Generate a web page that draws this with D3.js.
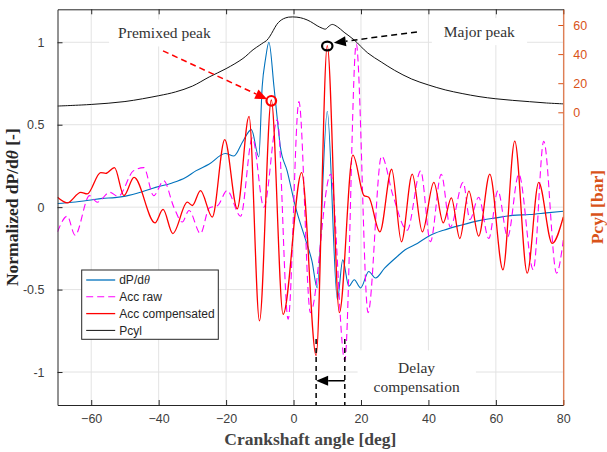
<!DOCTYPE html>
<html>
<head>
<meta charset="utf-8">
<script src="https://cdn.jsdelivr.net/npm/d3@7"></script>
<style>
  body { margin: 0; background: #fff; }
  svg { display: block; font-family: "Liberation Sans", Arial, sans-serif; }
</style>
</head>
<body>
<div id="chart"></div>
<script>
// ---- data ----
var xTicks = [-60, -40, -20, 0, 20, 40, 60, 80];
var yTicks = [-1, -0.5, 0, 0.5, 1];
var yTickLabels = ['-1', '-0.5', '0', '0.5', '1'];
var pTicks = [0, 20, 40, 60];

// Pcyl [bar] (right axis)
var pcylAngle = [-70, -60, -50, -40, -35, -30, -25, -20, -15, -12, -10, -9, -8, -7, -6, -5, -4, -3, -1.5, 1, 3, 5, 7, 8.5, 9.5, 10.5, 11.5, 13, 15, 18, 22, 26, 30, 35, 40, 45, 50, 55, 60, 65, 70, 75, 80];
var pcylBar   = [4.3, 5.4, 7.4, 11.4, 14, 18, 24.3, 30, 37, 43, 46.2, 47.8, 49.3, 52.3, 56.3, 60.3, 62.8, 64.3, 65.4, 65.4, 64.4, 62.4, 59.5, 57.8, 57.2, 59.2, 60.4, 58.8, 55, 49.7, 40.8, 34.6, 28.8, 22.9, 18.8, 15.4, 12.9, 10.8, 9.3, 8.2, 7.3, 6.4, 5.8];

// dP/dtheta normalized
var dpAngle = [-70, -65.6, -60.7, -56.7, -53, -49.8, -44.9, -40.9, -36, -32, -29, -25.1, -20.2, -17.7, -15, -12.5, -10.3, -9.3, -8.3, -7.3, -5.8, -4.8, -3.9, -1.9, 0.6, 3.6, 5.5, 7.0, 10.0, 13.0, 14.6, 16.4, 18, 19.9, 22.3, 24.3, 27, 30.7, 33, 36.7, 40.6, 44.5, 49.5, 55.4, 60, 65, 70, 75, 80];
var dpValue = [0.022, 0.03, 0.042, 0.053, 0.058, 0.067, 0.093, 0.12, 0.147, 0.18, 0.22, 0.26, 0.325, 0.31, 0.40, 0.47, 0.305, 0.73, 0.9, 1.0, 0.73, 0.53, 0.365, 0.22, 0.0, -0.2, -0.33, -0.49, 0.58, -0.56, -0.32, -0.48, -0.44, -0.49, -0.39, -0.43, -0.37, -0.3, -0.26, -0.22, -0.17, -0.14, -0.11, -0.08, -0.065, -0.05, -0.045, -0.035, -0.025];

// Acc raw
var rawAngle = [-70, -67.1, -64.8, -60.5, -58.2, -54.5, -52, -47.5, -44.4, -41.5, -38.5, -35.5, -33, -31, -27.6, -25, -22.5, -19.7, -15.7, -12.2, -8.8, -4.8, -1.6, 1.6, 5.0, 11.0, 15.2, 18.6, 22.1, 26.1, 29.5, 33.7, 37.7, 40.6, 43.8, 46.5, 50.3, 52.3, 54.9, 57.9, 60.6, 63.5, 66.8, 71.1, 74.2, 78, 80];
var rawValue = [-0.15, -0.055, -0.17, 0.07, 0.03, 0.09, 0.065, 0.22, 0.24, 0.07, 0.16, 0.0, -0.09, -0.02, -0.16, -0.005, 0.01, 0.10, -0.055, 0.42, 0.0, 0.53, -0.68, 0.64, -0.64, 0.2, -0.93, 0.99, -0.64, 0.31, 0.07, -0.14, 0.22, -0.21, 0.2, -0.12, 0.15, -0.075, 0.06, -0.19, 0.1, -0.18, 0.2, -0.38, 0.40, -0.40, -0.2];

// Acc compensated
var compAngle = [-70, -67.1, -63.1, -61.2, -57.2, -55.7, -53.1, -50.3, -47.3, -41.1, -38.7, -35.8, -31.5, -30, -27.6, -24.1, -20.4, -16.7, -13.2, -10.1, -6.6, -3.1, 2.4, 6.7, 10.0, 13.6, 17.6, 20.9, 22.3, 25.6, 29.1, 32.0, 35.2, 38.2, 41.6, 44.4, 46.8, 49.3, 52.0, 54.9, 58.2, 62.1, 65.6, 69.3, 72.7, 76.7, 80];
var compValue = [0.06, 0.026, 0.09, 0.08, 0.21, 0.205, 0.24, 0.07, 0.18, -0.095, -0.014, -0.16, 0.03, 0.01, 0.10, -0.06, 0.41, -0.01, 0.55, -0.69, 0.65, -0.65, 0.21, -0.90, 0.98, -0.64, 0.315, 0.07, 0.06, -0.15, 0.23, -0.21, 0.2, -0.15, 0.15, -0.095, 0.056, -0.19, 0.097, -0.176, 0.2, -0.38, 0.40, -0.40, 0.15, -0.22, -0.06];

var legendLabels = ['dP/d\u03b8', 'Acc raw', 'Acc compensated', 'Pcyl'];

(function () {
    var W = 607, H = 452;
    var margin = { top: 9.3, right: 43.7, bottom: 47, left: 57.5 };
    var width = W - margin.left - margin.right;
    var height = H - margin.top - margin.bottom;

    var blue = '#0072bd', magenta = '#ff00ff', red = '#ff0000', orange = '#d95319';
    var axisGray = '#262626', gridGray = '#e3e3e3';

    var svg = d3.select('#chart').append('svg')
        .attr('width', W).attr('height', H);
    var g = svg.append('g')
        .attr('transform', 'translate(' + margin.left + ',' + margin.top + ')');

    var x = d3.scaleLinear().domain([-70, 80]).range([0, width]);
    var yL = d3.scaleLinear().domain([-1.2, 1.2]).range([height, 0]);
    var yR = d3.scaleLinear().domain([-201.2, 70.8]).range([height, 0]);

    // grid
    g.append('g').selectAll('line').data(xTicks).enter().append('line')
        .attr('x1', function (d) { return x(d); }).attr('x2', function (d) { return x(d); })
        .attr('y1', 0).attr('y2', height)
        .attr('stroke', gridGray).attr('stroke-width', 1);
    g.append('g').selectAll('line').data(yTicks).enter().append('line')
        .attr('y1', function (d) { return yL(d); }).attr('y2', function (d) { return yL(d); })
        .attr('x1', 0).attr('x2', width)
        .attr('stroke', gridGray).attr('stroke-width', 1);

    // white boxes behind annotation text (they hide the grid)
    var boxes = g.append('g');

    g.append('defs').append('clipPath').attr('id', 'plotclip')
        .append('rect').attr('width', width).attr('height', height);
    var plot = g.append('g').attr('clip-path', 'url(#plotclip)');

    function zip(a, b) { return a.map(function (v, i) { return [v, b[i]]; }); }

    var lineL = d3.line()
        .x(function (d) { return x(d[0]); })
        .y(function (d) { return yL(d[1]); })
        .curve(d3.curveMonotoneX);
    var lineR = d3.line()
        .x(function (d) { return x(d[0]); })
        .y(function (d) { return yR(d[1]); })
        .curve(d3.curveCatmullRom.alpha(0.5));

    plot.append('path').datum(zip(dpAngle, dpValue))
        .attr('fill', 'none').attr('stroke', blue).attr('stroke-width', 1.1).attr('d', lineL);
    plot.append('path').datum(zip(rawAngle, rawValue))
        .attr('fill', 'none').attr('stroke', magenta).attr('stroke-width', 1.1)
        .attr('stroke-dasharray', '7,4').attr('d', lineL);
    plot.append('path').datum(zip(compAngle, compValue))
        .attr('fill', 'none').attr('stroke', red).attr('stroke-width', 1.3).attr('d', lineL);
    plot.append('path').datum(zip(pcylAngle, pcylBar))
        .attr('fill', 'none').attr('stroke', '#111').attr('stroke-width', 1).attr('d', lineR);

    // axes
    var xAxisB = d3.axisBottom(x).tickValues(xTicks).tickSize(-5).tickPadding(9).tickSizeOuter(0);
    var xAxisT = d3.axisTop(x).tickValues(xTicks).tickSize(-5).tickFormat('').tickSizeOuter(0);
    var yAxisL = d3.axisLeft(yL).tickValues(yTicks).tickSize(-5).tickPadding(13).tickSizeOuter(0)
        .tickFormat(function (d, i) { return yTickLabels[i]; });
    var yAxisR = d3.axisRight(yR).tickValues(pTicks).tickSize(-5).tickPadding(10).tickSizeOuter(0);

    function styleAxis(sel, col) {
        sel.select('.domain').attr('stroke', col).attr('stroke-width', 1);
        sel.selectAll('.tick line').attr('stroke', col);
        sel.selectAll('.tick text').attr('fill', col === axisGray ? '#404040' : col)
            .style('font-size', '12.5px').style('font-family', '"Liberation Sans", Arial, sans-serif');
    }
    styleAxis(g.append('g').attr('transform', 'translate(0,' + height + ')').call(xAxisB), axisGray);
    styleAxis(g.append('g').call(xAxisT), axisGray);
    styleAxis(g.append('g').call(yAxisL), axisGray);
    styleAxis(g.append('g').attr('transform', 'translate(' + width + ',0)').call(yAxisR), orange);

    // axis titles
    g.append('text')
        .attr('x', width / 2).attr('y', height + 40)
        .attr('text-anchor', 'middle')
        .style('font-family', '"Liberation Serif", "Times New Roman", serif')
        .style('font-weight', 'bold').style('font-size', '17.5px').attr('fill', '#444')
        .text('Crankshaft angle [deg]');

    var yl = g.append('text')
        .attr('transform', 'translate(' + (-40) + ',' + (height / 2) + ') rotate(-90)')
        .attr('text-anchor', 'middle')
        .style('font-family', '"Liberation Serif", "Times New Roman", serif')
        .style('font-weight', 'bold').style('font-size', '17.5px').attr('fill', '#262626');
    yl.append('tspan').text('Normalized dP/d');
    yl.append('tspan').style('font-style', 'italic').text('\u03b8');
    yl.append('tspan').text(' [-]');

    g.append('text')
        .attr('transform', 'translate(' + (width + 40) + ',' + (height / 2) + ') rotate(-90)')
        .attr('text-anchor', 'middle')
        .style('font-family', '"Liberation Serif", "Times New Roman", serif')
        .style('font-weight', 'bold').style('font-size', '17.5px').attr('fill', orange)
        .text('Pcyl [bar]');

    // ---- annotations ----
    var ann = g.append('g').style('font-family', '"Liberation Serif", "Times New Roman", serif');

    function arrowHead(sel, x1, y1, x2, y2, len, half, col) {
        var a = Math.atan2(y2 - y1, x2 - x1);
        var bx = x2 - len * Math.cos(a), by = y2 - len * Math.sin(a);
        var px = -Math.sin(a) * half, py = Math.cos(a) * half;
        sel.append('path')
            .attr('d', 'M' + x2 + ',' + y2 + 'L' + (bx + px) + ',' + (by + py) + 'L' + (bx - px) + ',' + (by - py) + 'Z')
            .attr('fill', col);
        return [bx, by];
    }
    function dashedArrow(x1, y1, x2, y2, col) {
        var base = arrowHead(ann, x1, y1, x2, y2, 12, 5, col);
        ann.append('line')
            .attr('x1', x1).attr('y1', y1).attr('x2', base[0]).attr('y2', base[1])
            .attr('stroke', col).attr('stroke-width', 1.5).attr('stroke-dasharray', '6,4');
    }
    function label(lines, cx, cy, padX, padY, extendBottom) {
        var t = ann.append('text')
            .attr('text-anchor', 'middle')
            .style('font-size', '15.5px').attr('fill', '#333');
        lines.forEach(function (s, i) {
            t.append('tspan').attr('x', cx).attr('y', cy + i * 18.5).attr('dy', '0.35em').text(s);
        });
        var b = t.node().getBBox();
        var y2 = extendBottom ? height : b.y + b.height + padY;
        boxes.append('rect')
            .attr('x', b.x - padX).attr('y', b.y - padY)
            .attr('width', b.width + 2 * padX).attr('height', y2 - (b.y - padY))
            .attr('fill', '#fff');
    }

    // Premixed peak
    label(['Premixed peak'], x(-38.3), yL(1.056), 9, 5, false);
    dashedArrow(x(-38.7), yL(0.948), x(-7.8), yL(0.655), red);
    ann.append('circle').attr('cx', x(-6.6)).attr('cy', yL(0.645)).attr('r', 4.8)
        .attr('fill', 'none').attr('stroke', red).attr('stroke-width', 2.2);

    // Major peak
    label(['Major peak'], x(55.1), yL(1.064), 12, 5, false);
    dashedArrow(x(36.6), yL(1.063), x(11.95), yL(0.997), '#000');
    ann.append('ellipse').attr('cx', x(10.0)).attr('cy', yL(0.977)).attr('rx', 5.2).attr('ry', 4.4)
        .attr('fill', 'none').attr('stroke', '#000').attr('stroke-width', 2.2);

    // Delay compensation
    label(['Delay', 'compensation'], x(36.5), yL(-0.975), 16, 9, true);
    [6.7, 15.2].forEach(function (a) {
        ann.append('line')
            .attr('x1', x(a)).attr('x2', x(a))
            .attr('y1', yL(-0.8)).attr('y2', height)
            .attr('stroke', '#000').attr('stroke-width', 1.5).attr('stroke-dasharray', '5,4');
    });
    (function () {
        var x1 = x(15.2), x2 = x(6.7), yy = yL(-1.053);
        var base = arrowHead(ann, x1, yy, x2, yy, 12, 5, '#000');
        ann.append('line').attr('x1', x1).attr('x2', base[0]).attr('y1', yy).attr('y2', yy)
            .attr('stroke', '#000').attr('stroke-width', 1.5);
    })();

    // ---- legend ----
    var lg = g.append('g').attr('transform', 'translate(' + (81.7 - margin.left) + ',' + (270 - margin.top) + ')');
    lg.append('rect').attr('width', 136.6).attr('height', 69.3)
        .attr('fill', '#fff').attr('stroke', axisGray).attr('stroke-width', 1);
    var styles = [
        { c: blue, d: null, w: 1.3 },
        { c: magenta, d: '7,4', w: 1.1 },
        { c: red, d: null, w: 1.3 },
        { c: '#111', d: null, w: 1 }
    ];
    legendLabels.forEach(function (s, i) {
        var yy = 10 + i * 16.8;
        lg.append('line').attr('x1', 4.5).attr('x2', 33.5).attr('y1', yy).attr('y2', yy)
            .attr('stroke', styles[i].c).attr('stroke-width', styles[i].w)
            .attr('stroke-dasharray', styles[i].d);
        var t = lg.append('text').attr('x', 37.5).attr('y', yy).attr('dy', '0.35em')
            .style('font-size', '12px').attr('fill', '#262626');
        if (i === 0) {
            t.append('tspan').text('dP/d');
            t.append('tspan').style('font-style', 'italic')
                .style('font-family', '"Liberation Serif", serif').text('\u03b8');
        } else {
            t.text(s);
        }
    });
})();
</script>
</body>
</html>
